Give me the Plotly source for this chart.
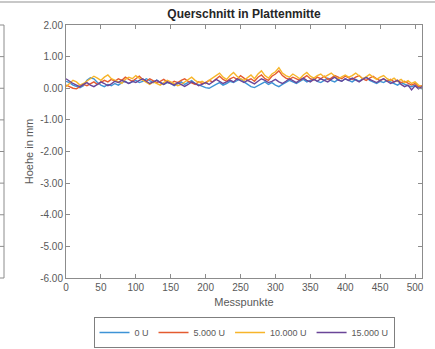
import plotly.graph_objects as go

messpunkte = list(range(0, 515, 5))

series_names = ["0 U", "5.000 U", "10.000 U", "15.000 U"]

hoehe_0U = [0.22,0.18,0.10,0.05,0.02,0.08,0.25,0.33,0.30,0.18,0.10,0.05,0.12,0.08,0.15,0.10,0.18,0.22,0.15,0.20,
            0.25,0.18,0.22,0.30,0.24,0.18,0.26,0.20,0.12,0.18,0.15,0.08,0.14,0.20,0.12,0.18,0.24,0.15,0.10,0.05,
            0.02,0.00,0.05,0.12,0.18,0.10,0.15,0.22,0.18,0.25,0.30,0.20,0.12,0.05,0.02,0.08,0.15,0.20,0.12,0.18,
            0.10,0.05,0.12,0.18,0.25,0.20,0.15,0.22,0.28,0.20,0.25,0.30,0.22,0.18,0.25,0.32,0.24,0.20,0.28,0.22,
            0.30,0.25,0.20,0.28,0.22,0.30,0.35,0.25,0.20,0.15,0.22,0.18,0.25,0.20,0.15,0.10,0.18,0.12,0.08,0.05,
            0.10,0.02,-0.02]
hoehe_5000U = [0.10,0.05,0.00,-0.02,0.05,0.12,0.08,0.15,0.20,0.12,0.18,0.25,0.20,0.28,0.22,0.30,0.25,0.35,0.28,0.22,
               0.30,0.38,0.28,0.22,0.30,0.25,0.18,0.22,0.28,0.20,0.15,0.22,0.18,0.25,0.30,0.22,0.18,0.12,0.20,0.15,
               0.18,0.25,0.20,0.30,0.38,0.28,0.22,0.30,0.35,0.28,0.40,0.32,0.25,0.30,0.22,0.35,0.42,0.30,0.25,0.38,
               0.45,0.55,0.40,0.32,0.28,0.35,0.30,0.25,0.32,0.40,0.30,0.26,0.35,0.30,0.38,0.28,0.32,0.40,0.35,0.30,
               0.38,0.32,0.28,0.35,0.40,0.30,0.25,0.32,0.38,0.30,0.24,0.30,0.22,0.28,0.20,0.25,0.18,0.22,0.15,0.10,
               0.15,0.05,0.08]
hoehe_10000U = [0.05,0.15,0.25,0.20,0.10,0.15,0.22,0.30,0.38,0.32,0.25,0.35,0.42,0.30,0.25,0.20,0.15,0.28,0.35,0.30,
                0.40,0.32,0.25,0.18,0.12,0.20,0.15,0.10,0.18,0.25,0.20,0.15,0.08,0.12,0.20,0.28,0.35,0.25,0.18,0.22,
                0.15,0.25,0.32,0.40,0.48,0.35,0.28,0.40,0.50,0.38,0.30,0.25,0.35,0.42,0.30,0.45,0.55,0.40,0.32,0.45,
                0.52,0.65,0.48,0.40,0.35,0.45,0.38,0.30,0.42,0.50,0.38,0.32,0.40,0.45,0.35,0.42,0.48,0.38,0.30,0.36,
                0.42,0.35,0.40,0.48,0.38,0.30,0.36,0.44,0.35,0.28,0.35,0.40,0.30,0.25,0.32,0.22,0.28,0.18,0.24,0.15,
                0.20,0.10,0.05]
hoehe_15000U = [0.30,0.22,0.15,0.10,0.05,0.12,0.18,0.10,0.05,0.12,0.20,0.15,0.08,0.14,0.22,0.18,0.25,0.20,0.15,0.22,
                0.18,0.25,0.30,0.22,0.15,0.20,0.25,0.18,0.12,0.20,0.14,0.10,0.18,0.12,0.06,0.12,0.20,0.15,0.08,0.12,
                0.18,0.12,0.20,0.28,0.22,0.15,0.20,0.26,0.20,0.30,0.24,0.18,0.25,0.20,0.14,0.22,0.30,0.25,0.18,0.22,
                0.28,0.20,0.15,0.22,0.30,0.24,0.18,0.26,0.32,0.25,0.20,0.28,0.22,0.30,0.25,0.20,0.28,0.35,0.26,0.22,
                0.30,0.25,0.32,0.26,0.20,0.28,0.34,0.28,0.22,0.18,0.25,0.30,0.22,0.15,0.20,0.25,0.12,0.05,0.10,-0.05,
                0.08,-0.02,0.05]

x_tickvals = list(range(0, 550, 50))
y_tickvals = [2, 1, 0, -1, -2, -3, -4, -5, -6]
y_ticktext = ["2.00", "1.00", "0.00", "-1.00", "-2.00", "-3.00", "-4.00", "-5.00", "-6.00"]

colors = ["#3d93d6", "#e45b30", "#f7b52a", "#6a4598"]
all_series = [hoehe_0U, hoehe_5000U, hoehe_10000U, hoehe_15000U]

W, H = 435, 349
L, R, T, B = 66, 13, 25, 71
pw, ph = W - L - R, H - T - B

fig = go.Figure()
for name, ys, c in zip(series_names, all_series, colors):
    fig.add_trace(go.Scatter(x=messpunkte, y=ys, mode="lines", name=name,
                             line=dict(color=c, width=1.4)))

axis_col = "#8c8c8c"
font_col = "#595959"

def px2paper_x(p):
    return (p - L) / pw

def px2paper_y(p):
    return 1 - (p - T) / ph

shapes = [
    # chart-area border of the neighbouring chart at the top
    dict(type="line", xref="paper", yref="paper", x0=px2paper_x(0), x1=px2paper_x(W),
         y0=px2paper_y(2), y1=px2paper_y(2), line=dict(color="#c8c8c8", width=2)),
    # partial axis of the neighbouring chart at the left
    dict(type="line", xref="paper", yref="paper", x0=px2paper_x(4), x1=px2paper_x(4),
         y0=px2paper_y(25), y1=px2paper_y(278), line=dict(color=axis_col, width=1)),
]
for yv in y_tickvals:
    yp = 1 - (2 - yv) / 8
    shapes.append(dict(type="line", xref="paper", yref="paper", x0=px2paper_x(0), x1=px2paper_x(4),
                       y0=yp, y1=yp, line=dict(color=axis_col, width=1)))

fig.update_layout(
    width=W, height=H,
    margin=dict(l=L, r=R, t=T, b=B, autoexpand=False),
    paper_bgcolor="white", plot_bgcolor="white",
    font=dict(family="Liberation Sans, Arial", size=10, color=font_col),
    title=dict(text="<b>Querschnitt in Plattenmitte</b>", x=(L + pw / 2) / W, xanchor="center",
               y=1 - 14 / H, yanchor="middle", font=dict(size=12, color="#262626")),
    xaxis=dict(range=[0, 510], tickvals=x_tickvals, showgrid=False, zeroline=False,
               showline=True, linecolor=axis_col, linewidth=1, mirror="ticks",
               ticks="inside", ticklen=4, tickcolor=axis_col,
               title=dict(text="Messpunkte", font=dict(size=11, color=font_col), standoff=6)),
    yaxis=dict(range=[-6, 2], tickvals=y_tickvals, ticktext=y_ticktext, showgrid=False, zeroline=False,
               showline=True, linecolor=axis_col, linewidth=1, mirror="ticks",
               ticks="inside", ticklen=4, tickcolor=axis_col,
               title=dict(text="Hoehe in mm", font=dict(size=11, color=font_col), standoff=4)),
    legend=dict(orientation="h", x=0.5, xanchor="center",
                y=px2paper_y(348), yanchor="bottom", bordercolor="#7f7f7f", borderwidth=1,
                font=dict(size=9, color=font_col), tracegroupgap=0),
    shapes=shapes,
    showlegend=True,
)

fig.write_html("out.html")
